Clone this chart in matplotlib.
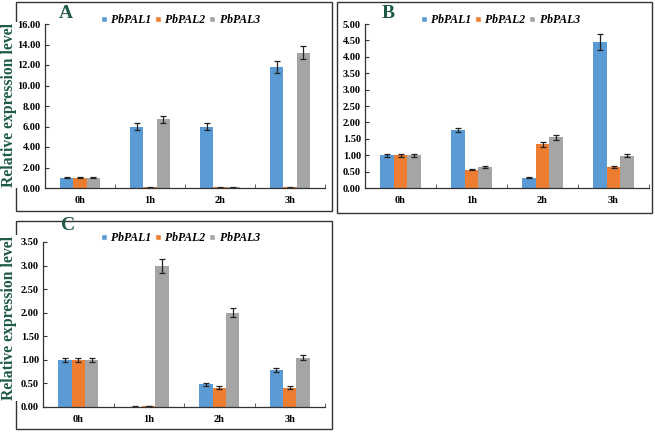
import matplotlib.pyplot as plt
import matplotlib.patches as mpatches
from matplotlib.lines import Line2D
import numpy as np

# data
times = ['0h', '1h', '2h', '3h']
genes = ['PbPAL1', 'PbPAL2', 'PbPAL3']
colors = ['#5B9BD5', '#ED7D31', '#A5A5A5']

a_pal1 = [1.00, 6.00, 6.00, 11.80]
a_pal2 = [1.00, 0.05, 0.05, 0.05]
a_pal3 = [1.00, 6.70, 0.05, 13.20]
a_err1 = [0.06, 0.30, 0.30, 0.60]
a_err2 = [0.05, 0.02, 0.02, 0.02]
a_err3 = [0.06, 0.35, 0.03, 0.65]

b_pal1 = [1.00, 1.77, 0.31, 4.45]
b_pal2 = [1.00, 0.56, 1.33, 0.64]
b_pal3 = [1.00, 0.64, 1.54, 0.98]
b_err1 = [0.05, 0.07, 0.02, 0.23]
b_err2 = [0.05, 0.02, 0.07, 0.03]
b_err3 = [0.05, 0.03, 0.07, 0.05]

c_pal1 = [1.00, 0.01, 0.48, 0.79]
c_pal2 = [1.00, 0.02, 0.41, 0.41]
c_pal3 = [1.00, 3.00, 2.00, 1.05]
c_err1 = [0.05, 0.005, 0.03, 0.04]
c_err2 = [0.05, 0.005, 0.03, 0.03]
c_err3 = [0.05, 0.15, 0.10, 0.06]

plt.rcParams['font.family'] = ['Liberation Serif', 'DejaVu Serif']
green = '#1E5A46'
W, H = 655, 433

fig = plt.figure(figsize=(6.55, 4.33), dpi=100)


def px_rect(x0, y0, x1, y1):
    return [x0 / W, 1 - y1 / H, (x1 - x0) / W, (y1 - y0) / H]


def panel(rect, vals, errs, ymax, step, letter, letter_xy, leg_xy):
    ax = fig.add_axes(px_rect(*rect))
    x = np.arange(len(times))
    w = 0.19
    for i, (v, e) in enumerate(zip(vals, errs)):
        ax.bar(x + (i - 1) * w, v, w, color=colors[i], yerr=e, capsize=2.2,
               error_kw=dict(elinewidth=0.9, capthick=0.9, ecolor='#222222'))
    ax.set_xlim(-0.5, 3.5)
    ax.set_ylim(0, ymax)
    ticks = np.arange(0, ymax + step / 2, step)
    ax.set_yticks(ticks)
    ax.set_yticklabels(['%.2f' % t for t in ticks], fontsize=7.5, fontweight='bold')
    ax.set_xticks(x)
    ax.set_xticklabels(times, fontsize=7.5, fontweight='bold')
    ax.set_xticks([0.5, 1.5, 2.5, 3.5], minor=True)
    ax.tick_params(axis='x', which='major', length=0, pad=6)
    ax.tick_params(axis='x', which='minor', direction='in', length=3, color='#444444')
    ax.tick_params(axis='y', direction='in', length=3, color='#333333', pad=3)
    for s in ['top', 'right']:
        ax.spines[s].set_visible(False)
    for s in ['left', 'bottom']:
        ax.spines[s].set_color('#333333')
        ax.spines[s].set_linewidth(0.9)
    fig.text(letter_xy[0] / W, 1 - letter_xy[1] / H, letter, fontsize=14,
             fontweight='bold', color=green, ha='center', va='center')
    handles = [Line2D([0], [0], marker='s', color='w', markerfacecolor=c,
                      markersize=5, label=g) for g, c in zip(genes, colors)]
    fig.legend(handles=handles, loc='center', ncol=3,
               bbox_to_anchor=(leg_xy[0] / W, 1 - leg_xy[1] / H), frameon=False,
               handlelength=0.6, handletextpad=0.3, columnspacing=0.3,
               prop=dict(family='Liberation Serif', weight='bold', style='italic', size=8.5))
    return ax


panel((45, 24, 325, 188), [a_pal1, a_pal2, a_pal3], [a_err1, a_err2, a_err3],
      16, 2, 'A', (66, 14), (180, 20))
panel((365, 24, 649, 188), [b_pal1, b_pal2, b_pal3], [b_err1, b_err2, b_err3],
      5, 0.5, 'B', (388, 14), (500, 20))
panel((43, 242, 325, 407), [c_pal1, c_pal2, c_pal3], [c_err1, c_err2, c_err3],
      3.5, 0.5, 'C', (68, 225), (180, 238))

# outer frames
for x0, y0, x1, y1 in [(16, 2, 332, 211), (337, 2, 652, 213), (16, 221, 332, 429)]:
    r = px_rect(x0, y0, x1, y1)
    fig.patches.append(mpatches.Rectangle((r[0], r[1]), r[2], r[3], transform=fig.transFigure,
                                          fill=False, edgecolor='#333333', lw=1.0))

for yc in [105, 318]:
    fig.text(9 / W, 1 - yc / H, 'Relative expression level', rotation=90, fontsize=11.3,
             fontweight='bold', color=green, ha='center', va='center',
             bbox=dict(facecolor='white', edgecolor='none', pad=0.5))

fig.savefig('out.png', dpi=100)
